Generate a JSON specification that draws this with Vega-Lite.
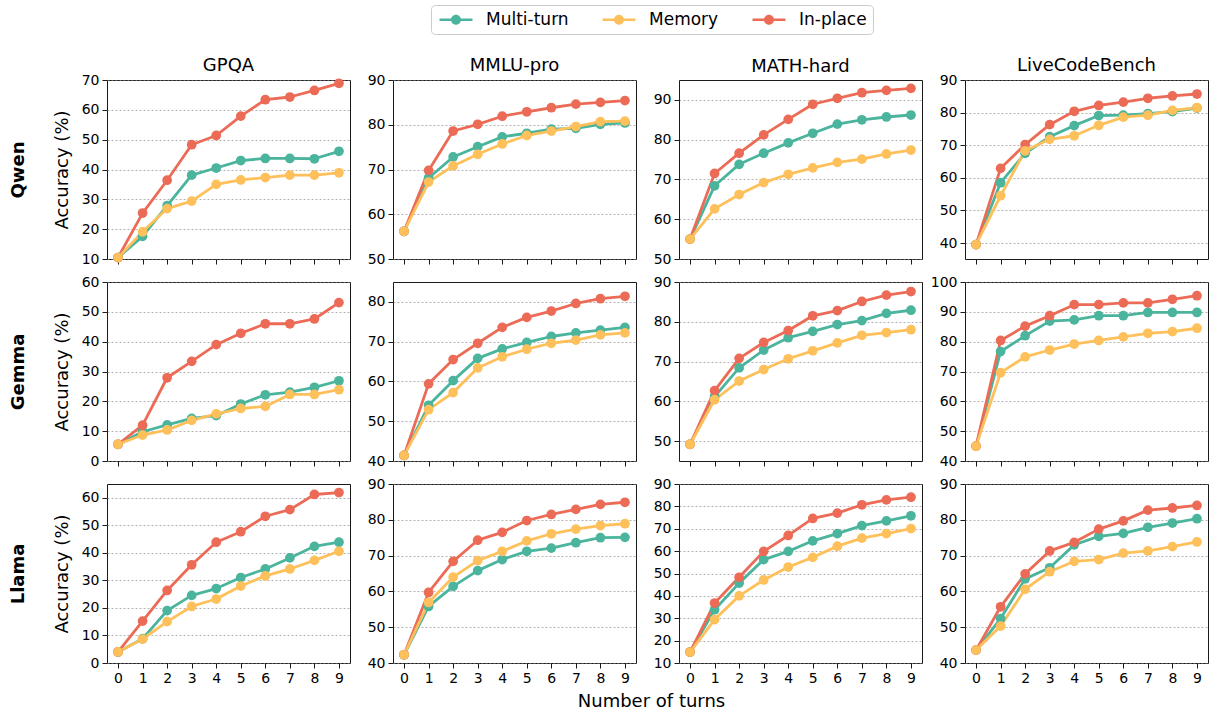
{
"$schema":"https://vega.github.io/schema/vega-lite/v6.json",
"background":"white",
"padding":{"left":8,"top":4,"right":2,"bottom":0},
"datasets":{"d":[
{"m":"Qwen","b":"GPQA","s":"Multi-turn","t":0,"v":10.5},{"m":"Qwen","b":"GPQA","s":"Multi-turn","t":1,"v":17.6},{"m":"Qwen","b":"GPQA","s":"Multi-turn","t":2,"v":27.9},{"m":"Qwen","b":"GPQA","s":"Multi-turn","t":3,"v":38.1},{"m":"Qwen","b":"GPQA","s":"Multi-turn","t":4,"v":40.5},{"m":"Qwen","b":"GPQA","s":"Multi-turn","t":5,"v":43.0},{"m":"Qwen","b":"GPQA","s":"Multi-turn","t":6,"v":43.7},{"m":"Qwen","b":"GPQA","s":"Multi-turn","t":7,"v":43.7},{"m":"Qwen","b":"GPQA","s":"Multi-turn","t":8,"v":43.6},{"m":"Qwen","b":"GPQA","s":"Multi-turn","t":9,"v":46.1},
{"m":"Qwen","b":"GPQA","s":"In-place","t":0,"v":10.5},{"m":"Qwen","b":"GPQA","s":"In-place","t":1,"v":25.4},{"m":"Qwen","b":"GPQA","s":"In-place","t":2,"v":36.4},{"m":"Qwen","b":"GPQA","s":"In-place","t":3,"v":48.3},{"m":"Qwen","b":"GPQA","s":"In-place","t":4,"v":51.4},{"m":"Qwen","b":"GPQA","s":"In-place","t":5,"v":57.9},{"m":"Qwen","b":"GPQA","s":"In-place","t":6,"v":63.4},{"m":"Qwen","b":"GPQA","s":"In-place","t":7,"v":64.3},{"m":"Qwen","b":"GPQA","s":"In-place","t":8,"v":66.5},{"m":"Qwen","b":"GPQA","s":"In-place","t":9,"v":68.9},
{"m":"Qwen","b":"GPQA","s":"Memory","t":0,"v":10.5},{"m":"Qwen","b":"GPQA","s":"Memory","t":1,"v":19.1},{"m":"Qwen","b":"GPQA","s":"Memory","t":2,"v":26.9},{"m":"Qwen","b":"GPQA","s":"Memory","t":3,"v":29.4},{"m":"Qwen","b":"GPQA","s":"Memory","t":4,"v":35.0},{"m":"Qwen","b":"GPQA","s":"Memory","t":5,"v":36.5},{"m":"Qwen","b":"GPQA","s":"Memory","t":6,"v":37.3},{"m":"Qwen","b":"GPQA","s":"Memory","t":7,"v":38.1},{"m":"Qwen","b":"GPQA","s":"Memory","t":8,"v":38.1},{"m":"Qwen","b":"GPQA","s":"Memory","t":9,"v":38.9},
{"m":"Qwen","b":"MMLU-pro","s":"Multi-turn","t":0,"v":56.2},{"m":"Qwen","b":"MMLU-pro","s":"Multi-turn","t":1,"v":68.1},{"m":"Qwen","b":"MMLU-pro","s":"Multi-turn","t":2,"v":72.8},{"m":"Qwen","b":"MMLU-pro","s":"Multi-turn","t":3,"v":75.1},{"m":"Qwen","b":"MMLU-pro","s":"Multi-turn","t":4,"v":77.3},{"m":"Qwen","b":"MMLU-pro","s":"Multi-turn","t":5,"v":78.1},{"m":"Qwen","b":"MMLU-pro","s":"Multi-turn","t":6,"v":79.0},{"m":"Qwen","b":"MMLU-pro","s":"Multi-turn","t":7,"v":79.2},{"m":"Qwen","b":"MMLU-pro","s":"Multi-turn","t":8,"v":80.1},{"m":"Qwen","b":"MMLU-pro","s":"Multi-turn","t":9,"v":80.4},
{"m":"Qwen","b":"MMLU-pro","s":"In-place","t":0,"v":56.2},{"m":"Qwen","b":"MMLU-pro","s":"In-place","t":1,"v":69.8},{"m":"Qwen","b":"MMLU-pro","s":"In-place","t":2,"v":78.6},{"m":"Qwen","b":"MMLU-pro","s":"In-place","t":3,"v":80.1},{"m":"Qwen","b":"MMLU-pro","s":"In-place","t":4,"v":81.9},{"m":"Qwen","b":"MMLU-pro","s":"In-place","t":5,"v":82.9},{"m":"Qwen","b":"MMLU-pro","s":"In-place","t":6,"v":83.8},{"m":"Qwen","b":"MMLU-pro","s":"In-place","t":7,"v":84.6},{"m":"Qwen","b":"MMLU-pro","s":"In-place","t":8,"v":85.0},{"m":"Qwen","b":"MMLU-pro","s":"In-place","t":9,"v":85.4},
{"m":"Qwen","b":"MMLU-pro","s":"Memory","t":0,"v":56.2},{"m":"Qwen","b":"MMLU-pro","s":"Memory","t":1,"v":67.2},{"m":"Qwen","b":"MMLU-pro","s":"Memory","t":2,"v":70.8},{"m":"Qwen","b":"MMLU-pro","s":"Memory","t":3,"v":73.4},{"m":"Qwen","b":"MMLU-pro","s":"Memory","t":4,"v":75.7},{"m":"Qwen","b":"MMLU-pro","s":"Memory","t":5,"v":77.6},{"m":"Qwen","b":"MMLU-pro","s":"Memory","t":6,"v":78.6},{"m":"Qwen","b":"MMLU-pro","s":"Memory","t":7,"v":79.6},{"m":"Qwen","b":"MMLU-pro","s":"Memory","t":8,"v":80.7},{"m":"Qwen","b":"MMLU-pro","s":"Memory","t":9,"v":80.8},
{"m":"Qwen","b":"MATH-hard","s":"Multi-turn","t":0,"v":55.0},{"m":"Qwen","b":"MATH-hard","s":"Multi-turn","t":1,"v":68.4},{"m":"Qwen","b":"MATH-hard","s":"Multi-turn","t":2,"v":73.8},{"m":"Qwen","b":"MATH-hard","s":"Multi-turn","t":3,"v":76.6},{"m":"Qwen","b":"MATH-hard","s":"Multi-turn","t":4,"v":79.2},{"m":"Qwen","b":"MATH-hard","s":"Multi-turn","t":5,"v":81.6},{"m":"Qwen","b":"MATH-hard","s":"Multi-turn","t":6,"v":83.9},{"m":"Qwen","b":"MATH-hard","s":"Multi-turn","t":7,"v":85.0},{"m":"Qwen","b":"MATH-hard","s":"Multi-turn","t":8,"v":85.7},{"m":"Qwen","b":"MATH-hard","s":"Multi-turn","t":9,"v":86.2},
{"m":"Qwen","b":"MATH-hard","s":"In-place","t":0,"v":55.0},{"m":"Qwen","b":"MATH-hard","s":"In-place","t":1,"v":71.5},{"m":"Qwen","b":"MATH-hard","s":"In-place","t":2,"v":76.6},{"m":"Qwen","b":"MATH-hard","s":"In-place","t":3,"v":81.2},{"m":"Qwen","b":"MATH-hard","s":"In-place","t":4,"v":85.1},{"m":"Qwen","b":"MATH-hard","s":"In-place","t":5,"v":88.9},{"m":"Qwen","b":"MATH-hard","s":"In-place","t":6,"v":90.4},{"m":"Qwen","b":"MATH-hard","s":"In-place","t":7,"v":91.8},{"m":"Qwen","b":"MATH-hard","s":"In-place","t":8,"v":92.4},{"m":"Qwen","b":"MATH-hard","s":"In-place","t":9,"v":92.9},
{"m":"Qwen","b":"MATH-hard","s":"Memory","t":0,"v":55.0},{"m":"Qwen","b":"MATH-hard","s":"Memory","t":1,"v":62.6},{"m":"Qwen","b":"MATH-hard","s":"Memory","t":2,"v":66.2},{"m":"Qwen","b":"MATH-hard","s":"Memory","t":3,"v":69.2},{"m":"Qwen","b":"MATH-hard","s":"Memory","t":4,"v":71.3},{"m":"Qwen","b":"MATH-hard","s":"Memory","t":5,"v":72.9},{"m":"Qwen","b":"MATH-hard","s":"Memory","t":6,"v":74.3},{"m":"Qwen","b":"MATH-hard","s":"Memory","t":7,"v":75.1},{"m":"Qwen","b":"MATH-hard","s":"Memory","t":8,"v":76.4},{"m":"Qwen","b":"MATH-hard","s":"Memory","t":9,"v":77.4},
{"m":"Qwen","b":"LiveCodeBench","s":"Multi-turn","t":0,"v":39.5},{"m":"Qwen","b":"LiveCodeBench","s":"Multi-turn","t":1,"v":58.5},{"m":"Qwen","b":"LiveCodeBench","s":"Multi-turn","t":2,"v":67.5},{"m":"Qwen","b":"LiveCodeBench","s":"Multi-turn","t":3,"v":72.6},{"m":"Qwen","b":"LiveCodeBench","s":"Multi-turn","t":4,"v":76.0},{"m":"Qwen","b":"LiveCodeBench","s":"Multi-turn","t":5,"v":79.1},{"m":"Qwen","b":"LiveCodeBench","s":"Multi-turn","t":6,"v":79.2},{"m":"Qwen","b":"LiveCodeBench","s":"Multi-turn","t":7,"v":79.7},{"m":"Qwen","b":"LiveCodeBench","s":"Multi-turn","t":8,"v":80.3},{"m":"Qwen","b":"LiveCodeBench","s":"Multi-turn","t":9,"v":81.4},
{"m":"Qwen","b":"LiveCodeBench","s":"In-place","t":0,"v":39.5},{"m":"Qwen","b":"LiveCodeBench","s":"In-place","t":1,"v":62.9},{"m":"Qwen","b":"LiveCodeBench","s":"In-place","t":2,"v":70.2},{"m":"Qwen","b":"LiveCodeBench","s":"In-place","t":3,"v":76.3},{"m":"Qwen","b":"LiveCodeBench","s":"In-place","t":4,"v":80.4},{"m":"Qwen","b":"LiveCodeBench","s":"In-place","t":5,"v":82.2},{"m":"Qwen","b":"LiveCodeBench","s":"In-place","t":6,"v":83.2},{"m":"Qwen","b":"LiveCodeBench","s":"In-place","t":7,"v":84.4},{"m":"Qwen","b":"LiveCodeBench","s":"In-place","t":8,"v":85.1},{"m":"Qwen","b":"LiveCodeBench","s":"In-place","t":9,"v":85.7},
{"m":"Qwen","b":"LiveCodeBench","s":"Memory","t":0,"v":39.5},{"m":"Qwen","b":"LiveCodeBench","s":"Memory","t":1,"v":54.5},{"m":"Qwen","b":"LiveCodeBench","s":"Memory","t":2,"v":68.3},{"m":"Qwen","b":"LiveCodeBench","s":"Memory","t":3,"v":71.8},{"m":"Qwen","b":"LiveCodeBench","s":"Memory","t":4,"v":72.9},{"m":"Qwen","b":"LiveCodeBench","s":"Memory","t":5,"v":76.1},{"m":"Qwen","b":"LiveCodeBench","s":"Memory","t":6,"v":78.6},{"m":"Qwen","b":"LiveCodeBench","s":"Memory","t":7,"v":79.2},{"m":"Qwen","b":"LiveCodeBench","s":"Memory","t":8,"v":80.7},{"m":"Qwen","b":"LiveCodeBench","s":"Memory","t":9,"v":81.5},
{"m":"Gemma","b":"GPQA","s":"Multi-turn","t":0,"v":5.6},{"m":"Gemma","b":"GPQA","s":"Multi-turn","t":1,"v":9.8},{"m":"Gemma","b":"GPQA","s":"Multi-turn","t":2,"v":12.1},{"m":"Gemma","b":"GPQA","s":"Multi-turn","t":3,"v":14.3},{"m":"Gemma","b":"GPQA","s":"Multi-turn","t":4,"v":15.2},{"m":"Gemma","b":"GPQA","s":"Multi-turn","t":5,"v":19.1},{"m":"Gemma","b":"GPQA","s":"Multi-turn","t":6,"v":22.2},{"m":"Gemma","b":"GPQA","s":"Multi-turn","t":7,"v":23.1},{"m":"Gemma","b":"GPQA","s":"Multi-turn","t":8,"v":24.7},{"m":"Gemma","b":"GPQA","s":"Multi-turn","t":9,"v":26.9},
{"m":"Gemma","b":"GPQA","s":"In-place","t":0,"v":5.6},{"m":"Gemma","b":"GPQA","s":"In-place","t":1,"v":12.0},{"m":"Gemma","b":"GPQA","s":"In-place","t":2,"v":27.9},{"m":"Gemma","b":"GPQA","s":"In-place","t":3,"v":33.4},{"m":"Gemma","b":"GPQA","s":"In-place","t":4,"v":39.0},{"m":"Gemma","b":"GPQA","s":"In-place","t":5,"v":42.8},{"m":"Gemma","b":"GPQA","s":"In-place","t":6,"v":46.0},{"m":"Gemma","b":"GPQA","s":"In-place","t":7,"v":46.0},{"m":"Gemma","b":"GPQA","s":"In-place","t":8,"v":47.6},{"m":"Gemma","b":"GPQA","s":"In-place","t":9,"v":53.1},
{"m":"Gemma","b":"GPQA","s":"Memory","t":0,"v":5.6},{"m":"Gemma","b":"GPQA","s":"Memory","t":1,"v":8.7},{"m":"Gemma","b":"GPQA","s":"Memory","t":2,"v":10.4},{"m":"Gemma","b":"GPQA","s":"Memory","t":3,"v":13.6},{"m":"Gemma","b":"GPQA","s":"Memory","t":4,"v":15.8},{"m":"Gemma","b":"GPQA","s":"Memory","t":5,"v":17.6},{"m":"Gemma","b":"GPQA","s":"Memory","t":6,"v":18.3},{"m":"Gemma","b":"GPQA","s":"Memory","t":7,"v":22.3},{"m":"Gemma","b":"GPQA","s":"Memory","t":8,"v":22.3},{"m":"Gemma","b":"GPQA","s":"Memory","t":9,"v":23.9},
{"m":"Gemma","b":"MMLU-pro","s":"Multi-turn","t":0,"v":41.4},{"m":"Gemma","b":"MMLU-pro","s":"Multi-turn","t":1,"v":54.0},{"m":"Gemma","b":"MMLU-pro","s":"Multi-turn","t":2,"v":60.2},{"m":"Gemma","b":"MMLU-pro","s":"Multi-turn","t":3,"v":65.8},{"m":"Gemma","b":"MMLU-pro","s":"Multi-turn","t":4,"v":68.2},{"m":"Gemma","b":"MMLU-pro","s":"Multi-turn","t":5,"v":69.8},{"m":"Gemma","b":"MMLU-pro","s":"Multi-turn","t":6,"v":71.3},{"m":"Gemma","b":"MMLU-pro","s":"Multi-turn","t":7,"v":72.2},{"m":"Gemma","b":"MMLU-pro","s":"Multi-turn","t":8,"v":72.9},{"m":"Gemma","b":"MMLU-pro","s":"Multi-turn","t":9,"v":73.6},
{"m":"Gemma","b":"MMLU-pro","s":"In-place","t":0,"v":41.4},{"m":"Gemma","b":"MMLU-pro","s":"In-place","t":1,"v":59.4},{"m":"Gemma","b":"MMLU-pro","s":"In-place","t":2,"v":65.5},{"m":"Gemma","b":"MMLU-pro","s":"In-place","t":3,"v":69.6},{"m":"Gemma","b":"MMLU-pro","s":"In-place","t":4,"v":73.6},{"m":"Gemma","b":"MMLU-pro","s":"In-place","t":5,"v":76.1},{"m":"Gemma","b":"MMLU-pro","s":"In-place","t":6,"v":77.7},{"m":"Gemma","b":"MMLU-pro","s":"In-place","t":7,"v":79.6},{"m":"Gemma","b":"MMLU-pro","s":"In-place","t":8,"v":80.8},{"m":"Gemma","b":"MMLU-pro","s":"In-place","t":9,"v":81.4},
{"m":"Gemma","b":"MMLU-pro","s":"Memory","t":0,"v":41.4},{"m":"Gemma","b":"MMLU-pro","s":"Memory","t":1,"v":52.9},{"m":"Gemma","b":"MMLU-pro","s":"Memory","t":2,"v":57.2},{"m":"Gemma","b":"MMLU-pro","s":"Memory","t":3,"v":63.4},{"m":"Gemma","b":"MMLU-pro","s":"Memory","t":4,"v":66.2},{"m":"Gemma","b":"MMLU-pro","s":"Memory","t":5,"v":68.1},{"m":"Gemma","b":"MMLU-pro","s":"Memory","t":6,"v":69.6},{"m":"Gemma","b":"MMLU-pro","s":"Memory","t":7,"v":70.4},{"m":"Gemma","b":"MMLU-pro","s":"Memory","t":8,"v":71.7},{"m":"Gemma","b":"MMLU-pro","s":"Memory","t":9,"v":72.2},
{"m":"Gemma","b":"MATH-hard","s":"Multi-turn","t":0,"v":49.2},{"m":"Gemma","b":"MATH-hard","s":"Multi-turn","t":1,"v":61.2},{"m":"Gemma","b":"MATH-hard","s":"Multi-turn","t":2,"v":68.4},{"m":"Gemma","b":"MATH-hard","s":"Multi-turn","t":3,"v":72.9},{"m":"Gemma","b":"MATH-hard","s":"Multi-turn","t":4,"v":76.0},{"m":"Gemma","b":"MATH-hard","s":"Multi-turn","t":5,"v":77.6},{"m":"Gemma","b":"MATH-hard","s":"Multi-turn","t":6,"v":79.3},{"m":"Gemma","b":"MATH-hard","s":"Multi-turn","t":7,"v":80.3},{"m":"Gemma","b":"MATH-hard","s":"Multi-turn","t":8,"v":82.1},{"m":"Gemma","b":"MATH-hard","s":"Multi-turn","t":9,"v":82.9},
{"m":"Gemma","b":"MATH-hard","s":"In-place","t":0,"v":49.2},{"m":"Gemma","b":"MATH-hard","s":"In-place","t":1,"v":62.7},{"m":"Gemma","b":"MATH-hard","s":"In-place","t":2,"v":70.8},{"m":"Gemma","b":"MATH-hard","s":"In-place","t":3,"v":74.8},{"m":"Gemma","b":"MATH-hard","s":"In-place","t":4,"v":77.8},{"m":"Gemma","b":"MATH-hard","s":"In-place","t":5,"v":81.5},{"m":"Gemma","b":"MATH-hard","s":"In-place","t":6,"v":82.8},{"m":"Gemma","b":"MATH-hard","s":"In-place","t":7,"v":85.1},{"m":"Gemma","b":"MATH-hard","s":"In-place","t":8,"v":86.7},{"m":"Gemma","b":"MATH-hard","s":"In-place","t":9,"v":87.6},
{"m":"Gemma","b":"MATH-hard","s":"Memory","t":0,"v":49.2},{"m":"Gemma","b":"MATH-hard","s":"Memory","t":1,"v":60.4},{"m":"Gemma","b":"MATH-hard","s":"Memory","t":2,"v":65.1},{"m":"Gemma","b":"MATH-hard","s":"Memory","t":3,"v":68.0},{"m":"Gemma","b":"MATH-hard","s":"Memory","t":4,"v":70.7},{"m":"Gemma","b":"MATH-hard","s":"Memory","t":5,"v":72.7},{"m":"Gemma","b":"MATH-hard","s":"Memory","t":6,"v":74.7},{"m":"Gemma","b":"MATH-hard","s":"Memory","t":7,"v":76.6},{"m":"Gemma","b":"MATH-hard","s":"Memory","t":8,"v":77.3},{"m":"Gemma","b":"MATH-hard","s":"Memory","t":9,"v":78.0},
{"m":"Gemma","b":"LiveCodeBench","s":"Multi-turn","t":0,"v":45.0},{"m":"Gemma","b":"LiveCodeBench","s":"Multi-turn","t":1,"v":76.7},{"m":"Gemma","b":"LiveCodeBench","s":"Multi-turn","t":2,"v":82.0},{"m":"Gemma","b":"LiveCodeBench","s":"Multi-turn","t":3,"v":86.9},{"m":"Gemma","b":"LiveCodeBench","s":"Multi-turn","t":4,"v":87.3},{"m":"Gemma","b":"LiveCodeBench","s":"Multi-turn","t":5,"v":88.7},{"m":"Gemma","b":"LiveCodeBench","s":"Multi-turn","t":6,"v":88.7},{"m":"Gemma","b":"LiveCodeBench","s":"Multi-turn","t":7,"v":89.8},{"m":"Gemma","b":"LiveCodeBench","s":"Multi-turn","t":8,"v":89.8},{"m":"Gemma","b":"LiveCodeBench","s":"Multi-turn","t":9,"v":89.8},
{"m":"Gemma","b":"LiveCodeBench","s":"In-place","t":0,"v":45.0},{"m":"Gemma","b":"LiveCodeBench","s":"In-place","t":1,"v":80.4},{"m":"Gemma","b":"LiveCodeBench","s":"In-place","t":2,"v":85.2},{"m":"Gemma","b":"LiveCodeBench","s":"In-place","t":3,"v":88.7},{"m":"Gemma","b":"LiveCodeBench","s":"In-place","t":4,"v":92.4},{"m":"Gemma","b":"LiveCodeBench","s":"In-place","t":5,"v":92.4},{"m":"Gemma","b":"LiveCodeBench","s":"In-place","t":6,"v":93.0},{"m":"Gemma","b":"LiveCodeBench","s":"In-place","t":7,"v":93.0},{"m":"Gemma","b":"LiveCodeBench","s":"In-place","t":8,"v":94.2},{"m":"Gemma","b":"LiveCodeBench","s":"In-place","t":9,"v":95.4},
{"m":"Gemma","b":"LiveCodeBench","s":"Memory","t":0,"v":45.0},{"m":"Gemma","b":"LiveCodeBench","s":"Memory","t":1,"v":69.6},{"m":"Gemma","b":"LiveCodeBench","s":"Memory","t":2,"v":74.9},{"m":"Gemma","b":"LiveCodeBench","s":"Memory","t":3,"v":77.2},{"m":"Gemma","b":"LiveCodeBench","s":"Memory","t":4,"v":79.2},{"m":"Gemma","b":"LiveCodeBench","s":"Memory","t":5,"v":80.4},{"m":"Gemma","b":"LiveCodeBench","s":"Memory","t":6,"v":81.6},{"m":"Gemma","b":"LiveCodeBench","s":"Memory","t":7,"v":82.8},{"m":"Gemma","b":"LiveCodeBench","s":"Memory","t":8,"v":83.4},{"m":"Gemma","b":"LiveCodeBench","s":"Memory","t":9,"v":84.5},
{"m":"Llama","b":"GPQA","s":"Multi-turn","t":0,"v":4.0},{"m":"Llama","b":"GPQA","s":"Multi-turn","t":1,"v":8.8},{"m":"Llama","b":"GPQA","s":"Multi-turn","t":2,"v":19.0},{"m":"Llama","b":"GPQA","s":"Multi-turn","t":3,"v":24.5},{"m":"Llama","b":"GPQA","s":"Multi-turn","t":4,"v":27.0},{"m":"Llama","b":"GPQA","s":"Multi-turn","t":5,"v":31.0},{"m":"Llama","b":"GPQA","s":"Multi-turn","t":6,"v":34.1},{"m":"Llama","b":"GPQA","s":"Multi-turn","t":7,"v":38.1},{"m":"Llama","b":"GPQA","s":"Multi-turn","t":8,"v":42.3},{"m":"Llama","b":"GPQA","s":"Multi-turn","t":9,"v":43.8},
{"m":"Llama","b":"GPQA","s":"In-place","t":0,"v":4.0},{"m":"Llama","b":"GPQA","s":"In-place","t":1,"v":15.2},{"m":"Llama","b":"GPQA","s":"In-place","t":2,"v":26.3},{"m":"Llama","b":"GPQA","s":"In-place","t":3,"v":35.6},{"m":"Llama","b":"GPQA","s":"In-place","t":4,"v":43.8},{"m":"Llama","b":"GPQA","s":"In-place","t":5,"v":47.6},{"m":"Llama","b":"GPQA","s":"In-place","t":6,"v":53.2},{"m":"Llama","b":"GPQA","s":"In-place","t":7,"v":55.6},{"m":"Llama","b":"GPQA","s":"In-place","t":8,"v":61.1},{"m":"Llama","b":"GPQA","s":"In-place","t":9,"v":61.8},
{"m":"Llama","b":"GPQA","s":"Memory","t":0,"v":4.0},{"m":"Llama","b":"GPQA","s":"Memory","t":1,"v":8.7},{"m":"Llama","b":"GPQA","s":"Memory","t":2,"v":15.0},{"m":"Llama","b":"GPQA","s":"Memory","t":3,"v":20.5},{"m":"Llama","b":"GPQA","s":"Memory","t":4,"v":23.2},{"m":"Llama","b":"GPQA","s":"Memory","t":5,"v":27.9},{"m":"Llama","b":"GPQA","s":"Memory","t":6,"v":31.6},{"m":"Llama","b":"GPQA","s":"Memory","t":7,"v":34.1},{"m":"Llama","b":"GPQA","s":"Memory","t":8,"v":37.2},{"m":"Llama","b":"GPQA","s":"Memory","t":9,"v":40.5},
{"m":"Llama","b":"MMLU-pro","s":"Multi-turn","t":0,"v":42.3},{"m":"Llama","b":"MMLU-pro","s":"Multi-turn","t":1,"v":55.8},{"m":"Llama","b":"MMLU-pro","s":"Multi-turn","t":2,"v":61.4},{"m":"Llama","b":"MMLU-pro","s":"Multi-turn","t":3,"v":65.8},{"m":"Llama","b":"MMLU-pro","s":"Multi-turn","t":4,"v":68.9},{"m":"Llama","b":"MMLU-pro","s":"Multi-turn","t":5,"v":71.2},{"m":"Llama","b":"MMLU-pro","s":"Multi-turn","t":6,"v":72.1},{"m":"Llama","b":"MMLU-pro","s":"Multi-turn","t":7,"v":73.6},{"m":"Llama","b":"MMLU-pro","s":"Multi-turn","t":8,"v":75.0},{"m":"Llama","b":"MMLU-pro","s":"Multi-turn","t":9,"v":75.1},
{"m":"Llama","b":"MMLU-pro","s":"In-place","t":0,"v":42.3},{"m":"Llama","b":"MMLU-pro","s":"In-place","t":1,"v":59.7},{"m":"Llama","b":"MMLU-pro","s":"In-place","t":2,"v":68.4},{"m":"Llama","b":"MMLU-pro","s":"In-place","t":3,"v":74.3},{"m":"Llama","b":"MMLU-pro","s":"In-place","t":4,"v":76.5},{"m":"Llama","b":"MMLU-pro","s":"In-place","t":5,"v":79.8},{"m":"Llama","b":"MMLU-pro","s":"In-place","t":6,"v":81.5},{"m":"Llama","b":"MMLU-pro","s":"In-place","t":7,"v":82.9},{"m":"Llama","b":"MMLU-pro","s":"In-place","t":8,"v":84.3},{"m":"Llama","b":"MMLU-pro","s":"In-place","t":9,"v":84.9},
{"m":"Llama","b":"MMLU-pro","s":"Memory","t":0,"v":42.3},{"m":"Llama","b":"MMLU-pro","s":"Memory","t":1,"v":56.9},{"m":"Llama","b":"MMLU-pro","s":"Memory","t":2,"v":64.0},{"m":"Llama","b":"MMLU-pro","s":"Memory","t":3,"v":68.6},{"m":"Llama","b":"MMLU-pro","s":"Memory","t":4,"v":71.2},{"m":"Llama","b":"MMLU-pro","s":"Memory","t":5,"v":74.1},{"m":"Llama","b":"MMLU-pro","s":"Memory","t":6,"v":76.1},{"m":"Llama","b":"MMLU-pro","s":"Memory","t":7,"v":77.4},{"m":"Llama","b":"MMLU-pro","s":"Memory","t":8,"v":78.4},{"m":"Llama","b":"MMLU-pro","s":"Memory","t":9,"v":78.9},
{"m":"Llama","b":"MATH-hard","s":"Multi-turn","t":0,"v":14.9},{"m":"Llama","b":"MATH-hard","s":"Multi-turn","t":1,"v":33.8},{"m":"Llama","b":"MATH-hard","s":"Multi-turn","t":2,"v":45.7},{"m":"Llama","b":"MATH-hard","s":"Multi-turn","t":3,"v":56.2},{"m":"Llama","b":"MATH-hard","s":"Multi-turn","t":4,"v":59.9},{"m":"Llama","b":"MATH-hard","s":"Multi-turn","t":5,"v":64.6},{"m":"Llama","b":"MATH-hard","s":"Multi-turn","t":6,"v":67.8},{"m":"Llama","b":"MATH-hard","s":"Multi-turn","t":7,"v":71.4},{"m":"Llama","b":"MATH-hard","s":"Multi-turn","t":8,"v":73.5},{"m":"Llama","b":"MATH-hard","s":"Multi-turn","t":9,"v":75.8},
{"m":"Llama","b":"MATH-hard","s":"In-place","t":0,"v":14.9},{"m":"Llama","b":"MATH-hard","s":"In-place","t":1,"v":36.8},{"m":"Llama","b":"MATH-hard","s":"In-place","t":2,"v":48.3},{"m":"Llama","b":"MATH-hard","s":"In-place","t":3,"v":59.9},{"m":"Llama","b":"MATH-hard","s":"In-place","t":4,"v":67.0},{"m":"Llama","b":"MATH-hard","s":"In-place","t":5,"v":74.6},{"m":"Llama","b":"MATH-hard","s":"In-place","t":6,"v":77.0},{"m":"Llama","b":"MATH-hard","s":"In-place","t":7,"v":80.7},{"m":"Llama","b":"MATH-hard","s":"In-place","t":8,"v":82.9},{"m":"Llama","b":"MATH-hard","s":"In-place","t":9,"v":84.1},
{"m":"Llama","b":"MATH-hard","s":"Memory","t":0,"v":14.9},{"m":"Llama","b":"MATH-hard","s":"Memory","t":1,"v":29.4},{"m":"Llama","b":"MATH-hard","s":"Memory","t":2,"v":40.0},{"m":"Llama","b":"MATH-hard","s":"Memory","t":3,"v":47.1},{"m":"Llama","b":"MATH-hard","s":"Memory","t":4,"v":52.9},{"m":"Llama","b":"MATH-hard","s":"Memory","t":5,"v":57.2},{"m":"Llama","b":"MATH-hard","s":"Memory","t":6,"v":62.2},{"m":"Llama","b":"MATH-hard","s":"Memory","t":7,"v":65.8},{"m":"Llama","b":"MATH-hard","s":"Memory","t":8,"v":67.8},{"m":"Llama","b":"MATH-hard","s":"Memory","t":9,"v":70.1},
{"m":"Llama","b":"LiveCodeBench","s":"Multi-turn","t":0,"v":43.6},{"m":"Llama","b":"LiveCodeBench","s":"Multi-turn","t":1,"v":52.4},{"m":"Llama","b":"LiveCodeBench","s":"Multi-turn","t":2,"v":63.5},{"m":"Llama","b":"LiveCodeBench","s":"Multi-turn","t":3,"v":66.6},{"m":"Llama","b":"LiveCodeBench","s":"Multi-turn","t":4,"v":73.0},{"m":"Llama","b":"LiveCodeBench","s":"Multi-turn","t":5,"v":75.4},{"m":"Llama","b":"LiveCodeBench","s":"Multi-turn","t":6,"v":76.2},{"m":"Llama","b":"LiveCodeBench","s":"Multi-turn","t":7,"v":77.9},{"m":"Llama","b":"LiveCodeBench","s":"Multi-turn","t":8,"v":79.1},{"m":"Llama","b":"LiveCodeBench","s":"Multi-turn","t":9,"v":80.3},
{"m":"Llama","b":"LiveCodeBench","s":"In-place","t":0,"v":43.6},{"m":"Llama","b":"LiveCodeBench","s":"In-place","t":1,"v":55.7},{"m":"Llama","b":"LiveCodeBench","s":"In-place","t":2,"v":64.9},{"m":"Llama","b":"LiveCodeBench","s":"In-place","t":3,"v":71.3},{"m":"Llama","b":"LiveCodeBench","s":"In-place","t":4,"v":73.7},{"m":"Llama","b":"LiveCodeBench","s":"In-place","t":5,"v":77.4},{"m":"Llama","b":"LiveCodeBench","s":"In-place","t":6,"v":79.7},{"m":"Llama","b":"LiveCodeBench","s":"In-place","t":7,"v":82.7},{"m":"Llama","b":"LiveCodeBench","s":"In-place","t":8,"v":83.3},{"m":"Llama","b":"LiveCodeBench","s":"In-place","t":9,"v":84.0},
{"m":"Llama","b":"LiveCodeBench","s":"Memory","t":0,"v":43.6},{"m":"Llama","b":"LiveCodeBench","s":"Memory","t":1,"v":50.3},{"m":"Llama","b":"LiveCodeBench","s":"Memory","t":2,"v":60.6},{"m":"Llama","b":"LiveCodeBench","s":"Memory","t":3,"v":65.5},{"m":"Llama","b":"LiveCodeBench","s":"Memory","t":4,"v":68.4},{"m":"Llama","b":"LiveCodeBench","s":"Memory","t":5,"v":68.9},{"m":"Llama","b":"LiveCodeBench","s":"Memory","t":6,"v":70.7},{"m":"Llama","b":"LiveCodeBench","s":"Memory","t":7,"v":71.3},{"m":"Llama","b":"LiveCodeBench","s":"Memory","t":8,"v":72.5},{"m":"Llama","b":"LiveCodeBench","s":"Memory","t":9,"v":73.8}
]},
"data":{"name":"d"},
"columns":4,
"spacing":{"row":23,"column":43},
"bounds":"flush",
"title":{"text":"Number of turns","orient":"bottom","anchor":"middle","frame":"bounds","fontSize":18,"offset":7,"dx":43},
"concat":[
{"width":243,"height":179,"title":{"text":"GPQA","dy":7},"transform":[{"filter":"datum.m==='Qwen'&&datum.b==='GPQA'"}],
 "layer":[
  {"mark":{"type":"line","strokeWidth":2.8,"strokeJoin":"round","point":{"filled":true,"size":95,"opacity":1}},
   "encoding":{"x":{"field":"t","type":"quantitative","scale":{"domain":[-0.45,9.45],"nice":false,"zero":false},"axis":{"values":[0,1,2,3,4,5,6,7,8,9],"labels":false,"title":null}},
    "y":{"field":"v","type":"quantitative","scale":{"domain":[10,70],"nice":false,"zero":false},"axis":{"values":[10,20,30,40,50,60,70],"title":"Accuracy (%)","titlePadding":10}},
    "color":{"field":"s","type":"nominal","scale":{"domain":["Multi-turn","Memory","In-place"],"range":["#4bb49c","#fec05a","#ec6b56"]},"legend":{"title":null,"orient":"none","legendX":324,"legendY":-75,"direction":"horizontal","columns":3,"symbolType":"M-2.06,-0.16L2.06,-0.16L2.06,0.16L-2.06,0.16Z M-0.625,0A0.625,0.625 0 1,1 0.625,0A0.625,0.625 0 1,1 -0.625,0Z","symbolSize":256,"symbolStrokeWidth":0,"symbolOffset":10.5,"labelFontSize":17,"labelColor":"#000","labelOffset":21.5,"columnPadding":31,"padding":6,"strokeColor":"#cccccc","fillColor":"#ffffff","cornerRadius":4,"encode":{"symbols":{"update":{"fill":{"scale":"color","field":"value"},"stroke":{"value":"transparent"},"opacity":{"value":1}}}}}}}},
  {"mark":{"type":"point","opacity":0},"encoding":{"y":{"field":"v","type":"quantitative","scale":{"domain":[10,70],"nice":false,"zero":false},"axis":{"orient":"left","title":"Qwen","titleFontWeight":"bold","titlePadding":80,"labels":false,"ticks":false,"domain":false,"grid":false}}}}
 ],"resolve":{"scale":{"y":"independent"}}},
{"width":243,"height":179,"title":{"text":"MMLU-pro","dy":7},"transform":[{"filter":"datum.m==='Qwen'&&datum.b==='MMLU-pro'"}],
 "mark":{"type":"line","strokeWidth":2.8,"strokeJoin":"round","point":{"filled":true,"size":95,"opacity":1}},
 "encoding":{"x":{"field":"t","type":"quantitative","scale":{"domain":[-0.45,9.45],"nice":false,"zero":false},"axis":{"values":[0,1,2,3,4,5,6,7,8,9],"labels":false,"title":null}},
  "y":{"field":"v","type":"quantitative","scale":{"domain":[50,90],"nice":false,"zero":false},"axis":{"values":[50,60,70,80,90],"title":null}},
  "color":{"field":"s","type":"nominal","scale":{"domain":["Multi-turn","Memory","In-place"],"range":["#4bb49c","#fec05a","#ec6b56"]},"legend":{"title":null,"orient":"none","legendX":324,"legendY":-75,"direction":"horizontal","columns":3,"symbolType":"M-2.06,-0.16L2.06,-0.16L2.06,0.16L-2.06,0.16Z M-0.625,0A0.625,0.625 0 1,1 0.625,0A0.625,0.625 0 1,1 -0.625,0Z","symbolSize":256,"symbolStrokeWidth":0,"symbolOffset":10.5,"labelFontSize":17,"labelColor":"#000","labelOffset":21.5,"columnPadding":31,"padding":6,"strokeColor":"#cccccc","fillColor":"#ffffff","cornerRadius":4,"encode":{"symbols":{"update":{"fill":{"scale":"color","field":"value"},"stroke":{"value":"transparent"},"opacity":{"value":1}}}}}}}},
{"width":243,"height":179,"title":{"text":"MATH-hard","dy":1},"transform":[{"filter":"datum.m==='Qwen'&&datum.b==='MATH-hard'"}],
 "mark":{"type":"line","strokeWidth":2.8,"strokeJoin":"round","point":{"filled":true,"size":95,"opacity":1}},
 "encoding":{"x":{"field":"t","type":"quantitative","scale":{"domain":[-0.45,9.45],"nice":false,"zero":false},"axis":{"values":[0,1,2,3,4,5,6,7,8,9],"labels":false,"title":null}},
  "y":{"field":"v","type":"quantitative","scale":{"domain":[50,95],"nice":false,"zero":false},"axis":{"values":[50,60,70,80,90],"title":null}},
  "color":{"field":"s","type":"nominal","scale":{"domain":["Multi-turn","Memory","In-place"],"range":["#4bb49c","#fec05a","#ec6b56"]},"legend":{"title":null,"orient":"none","legendX":324,"legendY":-75,"direction":"horizontal","columns":3,"symbolType":"M-2.06,-0.16L2.06,-0.16L2.06,0.16L-2.06,0.16Z M-0.625,0A0.625,0.625 0 1,1 0.625,0A0.625,0.625 0 1,1 -0.625,0Z","symbolSize":256,"symbolStrokeWidth":0,"symbolOffset":10.5,"labelFontSize":17,"labelColor":"#000","labelOffset":21.5,"columnPadding":31,"padding":6,"strokeColor":"#cccccc","fillColor":"#ffffff","cornerRadius":4,"encode":{"symbols":{"update":{"fill":{"scale":"color","field":"value"},"stroke":{"value":"transparent"},"opacity":{"value":1}}}}}}}},
{"width":243,"height":179,"title":{"text":"LiveCodeBench","dy":7},"transform":[{"filter":"datum.m==='Qwen'&&datum.b==='LiveCodeBench'"}],
 "mark":{"type":"line","strokeWidth":2.8,"strokeJoin":"round","point":{"filled":true,"size":95,"opacity":1}},
 "encoding":{"x":{"field":"t","type":"quantitative","scale":{"domain":[-0.45,9.45],"nice":false,"zero":false},"axis":{"values":[0,1,2,3,4,5,6,7,8,9],"labels":false,"title":null}},
  "y":{"field":"v","type":"quantitative","scale":{"domain":[35.1,90],"nice":false,"zero":false},"axis":{"values":[40,50,60,70,80,90],"title":null}},
  "color":{"field":"s","type":"nominal","scale":{"domain":["Multi-turn","Memory","In-place"],"range":["#4bb49c","#fec05a","#ec6b56"]},"legend":{"title":null,"orient":"none","legendX":324,"legendY":-75,"direction":"horizontal","columns":3,"symbolType":"M-2.06,-0.16L2.06,-0.16L2.06,0.16L-2.06,0.16Z M-0.625,0A0.625,0.625 0 1,1 0.625,0A0.625,0.625 0 1,1 -0.625,0Z","symbolSize":256,"symbolStrokeWidth":0,"symbolOffset":10.5,"labelFontSize":17,"labelColor":"#000","labelOffset":21.5,"columnPadding":31,"padding":6,"strokeColor":"#cccccc","fillColor":"#ffffff","cornerRadius":4,"encode":{"symbols":{"update":{"fill":{"scale":"color","field":"value"},"stroke":{"value":"transparent"},"opacity":{"value":1}}}}}}}},
{"width":243,"height":179,"transform":[{"filter":"datum.m==='Gemma'&&datum.b==='GPQA'"}],
 "layer":[
  {"mark":{"type":"line","strokeWidth":2.8,"strokeJoin":"round","point":{"filled":true,"size":95,"opacity":1}},
   "encoding":{"x":{"field":"t","type":"quantitative","scale":{"domain":[-0.45,9.45],"nice":false,"zero":false},"axis":{"values":[0,1,2,3,4,5,6,7,8,9],"labels":false,"title":null}},
    "y":{"field":"v","type":"quantitative","scale":{"domain":[0,60],"nice":false,"zero":false},"axis":{"values":[0,10,20,30,40,50,60],"title":"Accuracy (%)","titlePadding":10}},
    "color":{"field":"s","type":"nominal","scale":{"domain":["Multi-turn","Memory","In-place"],"range":["#4bb49c","#fec05a","#ec6b56"]},"legend":{"title":null,"orient":"none","legendX":324,"legendY":-75,"direction":"horizontal","columns":3,"symbolType":"M-2.06,-0.16L2.06,-0.16L2.06,0.16L-2.06,0.16Z M-0.625,0A0.625,0.625 0 1,1 0.625,0A0.625,0.625 0 1,1 -0.625,0Z","symbolSize":256,"symbolStrokeWidth":0,"symbolOffset":10.5,"labelFontSize":17,"labelColor":"#000","labelOffset":21.5,"columnPadding":31,"padding":6,"strokeColor":"#cccccc","fillColor":"#ffffff","cornerRadius":4,"encode":{"symbols":{"update":{"fill":{"scale":"color","field":"value"},"stroke":{"value":"transparent"},"opacity":{"value":1}}}}}}}},
  {"mark":{"type":"point","opacity":0},"encoding":{"y":{"field":"v","type":"quantitative","scale":{"domain":[0,60],"nice":false,"zero":false},"axis":{"orient":"left","title":"Gemma","titleFontWeight":"bold","titlePadding":80,"labels":false,"ticks":false,"domain":false,"grid":false}}}}
 ],"resolve":{"scale":{"y":"independent"}}},
{"width":243,"height":179,"transform":[{"filter":"datum.m==='Gemma'&&datum.b==='MMLU-pro'"}],
 "mark":{"type":"line","strokeWidth":2.8,"strokeJoin":"round","point":{"filled":true,"size":95,"opacity":1}},
 "encoding":{"x":{"field":"t","type":"quantitative","scale":{"domain":[-0.45,9.45],"nice":false,"zero":false},"axis":{"values":[0,1,2,3,4,5,6,7,8,9],"labels":false,"title":null}},
  "y":{"field":"v","type":"quantitative","scale":{"domain":[40,85],"nice":false,"zero":false},"axis":{"values":[40,50,60,70,80],"title":null}},
  "color":{"field":"s","type":"nominal","scale":{"domain":["Multi-turn","Memory","In-place"],"range":["#4bb49c","#fec05a","#ec6b56"]},"legend":{"title":null,"orient":"none","legendX":324,"legendY":-75,"direction":"horizontal","columns":3,"symbolType":"M-2.06,-0.16L2.06,-0.16L2.06,0.16L-2.06,0.16Z M-0.625,0A0.625,0.625 0 1,1 0.625,0A0.625,0.625 0 1,1 -0.625,0Z","symbolSize":256,"symbolStrokeWidth":0,"symbolOffset":10.5,"labelFontSize":17,"labelColor":"#000","labelOffset":21.5,"columnPadding":31,"padding":6,"strokeColor":"#cccccc","fillColor":"#ffffff","cornerRadius":4,"encode":{"symbols":{"update":{"fill":{"scale":"color","field":"value"},"stroke":{"value":"transparent"},"opacity":{"value":1}}}}}}}},
{"width":243,"height":179,"transform":[{"filter":"datum.m==='Gemma'&&datum.b==='MATH-hard'"}],
 "mark":{"type":"line","strokeWidth":2.8,"strokeJoin":"round","point":{"filled":true,"size":95,"opacity":1}},
 "encoding":{"x":{"field":"t","type":"quantitative","scale":{"domain":[-0.45,9.45],"nice":false,"zero":false},"axis":{"values":[0,1,2,3,4,5,6,7,8,9],"labels":false,"title":null}},
  "y":{"field":"v","type":"quantitative","scale":{"domain":[45,90],"nice":false,"zero":false},"axis":{"values":[50,60,70,80,90],"title":null}},
  "color":{"field":"s","type":"nominal","scale":{"domain":["Multi-turn","Memory","In-place"],"range":["#4bb49c","#fec05a","#ec6b56"]},"legend":{"title":null,"orient":"none","legendX":324,"legendY":-75,"direction":"horizontal","columns":3,"symbolType":"M-2.06,-0.16L2.06,-0.16L2.06,0.16L-2.06,0.16Z M-0.625,0A0.625,0.625 0 1,1 0.625,0A0.625,0.625 0 1,1 -0.625,0Z","symbolSize":256,"symbolStrokeWidth":0,"symbolOffset":10.5,"labelFontSize":17,"labelColor":"#000","labelOffset":21.5,"columnPadding":31,"padding":6,"strokeColor":"#cccccc","fillColor":"#ffffff","cornerRadius":4,"encode":{"symbols":{"update":{"fill":{"scale":"color","field":"value"},"stroke":{"value":"transparent"},"opacity":{"value":1}}}}}}}},
{"width":243,"height":179,"transform":[{"filter":"datum.m==='Gemma'&&datum.b==='LiveCodeBench'"}],
 "mark":{"type":"line","strokeWidth":2.8,"strokeJoin":"round","point":{"filled":true,"size":95,"opacity":1}},
 "encoding":{"x":{"field":"t","type":"quantitative","scale":{"domain":[-0.45,9.45],"nice":false,"zero":false},"axis":{"values":[0,1,2,3,4,5,6,7,8,9],"labels":false,"title":null}},
  "y":{"field":"v","type":"quantitative","scale":{"domain":[40,100],"nice":false,"zero":false},"axis":{"values":[40,50,60,70,80,90,100],"title":null}},
  "color":{"field":"s","type":"nominal","scale":{"domain":["Multi-turn","Memory","In-place"],"range":["#4bb49c","#fec05a","#ec6b56"]},"legend":{"title":null,"orient":"none","legendX":324,"legendY":-75,"direction":"horizontal","columns":3,"symbolType":"M-2.06,-0.16L2.06,-0.16L2.06,0.16L-2.06,0.16Z M-0.625,0A0.625,0.625 0 1,1 0.625,0A0.625,0.625 0 1,1 -0.625,0Z","symbolSize":256,"symbolStrokeWidth":0,"symbolOffset":10.5,"labelFontSize":17,"labelColor":"#000","labelOffset":21.5,"columnPadding":31,"padding":6,"strokeColor":"#cccccc","fillColor":"#ffffff","cornerRadius":4,"encode":{"symbols":{"update":{"fill":{"scale":"color","field":"value"},"stroke":{"value":"transparent"},"opacity":{"value":1}}}}}}}},
{"width":243,"height":179,"transform":[{"filter":"datum.m==='Llama'&&datum.b==='GPQA'"}],
 "layer":[
  {"mark":{"type":"line","strokeWidth":2.8,"strokeJoin":"round","point":{"filled":true,"size":95,"opacity":1}},
   "encoding":{"x":{"field":"t","type":"quantitative","scale":{"domain":[-0.45,9.45],"nice":false,"zero":false},"axis":{"values":[0,1,2,3,4,5,6,7,8,9],"title":null}},
    "y":{"field":"v","type":"quantitative","scale":{"domain":[0,64.9],"nice":false,"zero":false},"axis":{"values":[0,10,20,30,40,50,60],"title":"Accuracy (%)","titlePadding":10}},
    "color":{"field":"s","type":"nominal","scale":{"domain":["Multi-turn","Memory","In-place"],"range":["#4bb49c","#fec05a","#ec6b56"]},"legend":{"title":null,"orient":"none","legendX":324,"legendY":-75,"direction":"horizontal","columns":3,"symbolType":"M-2.06,-0.16L2.06,-0.16L2.06,0.16L-2.06,0.16Z M-0.625,0A0.625,0.625 0 1,1 0.625,0A0.625,0.625 0 1,1 -0.625,0Z","symbolSize":256,"symbolStrokeWidth":0,"symbolOffset":10.5,"labelFontSize":17,"labelColor":"#000","labelOffset":21.5,"columnPadding":31,"padding":6,"strokeColor":"#cccccc","fillColor":"#ffffff","cornerRadius":4,"encode":{"symbols":{"update":{"fill":{"scale":"color","field":"value"},"stroke":{"value":"transparent"},"opacity":{"value":1}}}}}}}},
  {"mark":{"type":"point","opacity":0},"encoding":{"y":{"field":"v","type":"quantitative","scale":{"domain":[0,64.9],"nice":false,"zero":false},"axis":{"orient":"left","title":"Llama","titleFontWeight":"bold","titlePadding":80,"labels":false,"ticks":false,"domain":false,"grid":false}}}}
 ],"resolve":{"scale":{"y":"independent"}}},
{"width":243,"height":179,"transform":[{"filter":"datum.m==='Llama'&&datum.b==='MMLU-pro'"}],
 "mark":{"type":"line","strokeWidth":2.8,"strokeJoin":"round","point":{"filled":true,"size":95,"opacity":1}},
 "encoding":{"x":{"field":"t","type":"quantitative","scale":{"domain":[-0.45,9.45],"nice":false,"zero":false},"axis":{"values":[0,1,2,3,4,5,6,7,8,9],"title":null}},
  "y":{"field":"v","type":"quantitative","scale":{"domain":[40,90],"nice":false,"zero":false},"axis":{"values":[40,50,60,70,80,90],"title":null}},
  "color":{"field":"s","type":"nominal","scale":{"domain":["Multi-turn","Memory","In-place"],"range":["#4bb49c","#fec05a","#ec6b56"]},"legend":{"title":null,"orient":"none","legendX":324,"legendY":-75,"direction":"horizontal","columns":3,"symbolType":"M-2.06,-0.16L2.06,-0.16L2.06,0.16L-2.06,0.16Z M-0.625,0A0.625,0.625 0 1,1 0.625,0A0.625,0.625 0 1,1 -0.625,0Z","symbolSize":256,"symbolStrokeWidth":0,"symbolOffset":10.5,"labelFontSize":17,"labelColor":"#000","labelOffset":21.5,"columnPadding":31,"padding":6,"strokeColor":"#cccccc","fillColor":"#ffffff","cornerRadius":4,"encode":{"symbols":{"update":{"fill":{"scale":"color","field":"value"},"stroke":{"value":"transparent"},"opacity":{"value":1}}}}}}}},
{"width":243,"height":179,"transform":[{"filter":"datum.m==='Llama'&&datum.b==='MATH-hard'"}],
 "mark":{"type":"line","strokeWidth":2.8,"strokeJoin":"round","point":{"filled":true,"size":95,"opacity":1}},
 "encoding":{"x":{"field":"t","type":"quantitative","scale":{"domain":[-0.45,9.45],"nice":false,"zero":false},"axis":{"values":[0,1,2,3,4,5,6,7,8,9],"title":null}},
  "y":{"field":"v","type":"quantitative","scale":{"domain":[10,90],"nice":false,"zero":false},"axis":{"values":[10,20,30,40,50,60,70,80,90],"title":null}},
  "color":{"field":"s","type":"nominal","scale":{"domain":["Multi-turn","Memory","In-place"],"range":["#4bb49c","#fec05a","#ec6b56"]},"legend":{"title":null,"orient":"none","legendX":324,"legendY":-75,"direction":"horizontal","columns":3,"symbolType":"M-2.06,-0.16L2.06,-0.16L2.06,0.16L-2.06,0.16Z M-0.625,0A0.625,0.625 0 1,1 0.625,0A0.625,0.625 0 1,1 -0.625,0Z","symbolSize":256,"symbolStrokeWidth":0,"symbolOffset":10.5,"labelFontSize":17,"labelColor":"#000","labelOffset":21.5,"columnPadding":31,"padding":6,"strokeColor":"#cccccc","fillColor":"#ffffff","cornerRadius":4,"encode":{"symbols":{"update":{"fill":{"scale":"color","field":"value"},"stroke":{"value":"transparent"},"opacity":{"value":1}}}}}}}},
{"width":243,"height":179,"transform":[{"filter":"datum.m==='Llama'&&datum.b==='LiveCodeBench'"}],
 "mark":{"type":"line","strokeWidth":2.8,"strokeJoin":"round","point":{"filled":true,"size":95,"opacity":1}},
 "encoding":{"x":{"field":"t","type":"quantitative","scale":{"domain":[-0.45,9.45],"nice":false,"zero":false},"axis":{"values":[0,1,2,3,4,5,6,7,8,9],"title":null}},
  "y":{"field":"v","type":"quantitative","scale":{"domain":[40,90],"nice":false,"zero":false},"axis":{"values":[40,50,60,70,80,90],"title":null}},
  "color":{"field":"s","type":"nominal","scale":{"domain":["Multi-turn","Memory","In-place"],"range":["#4bb49c","#fec05a","#ec6b56"]},"legend":{"title":null,"orient":"none","legendX":324,"legendY":-75,"direction":"horizontal","columns":3,"symbolType":"M-2.06,-0.16L2.06,-0.16L2.06,0.16L-2.06,0.16Z M-0.625,0A0.625,0.625 0 1,1 0.625,0A0.625,0.625 0 1,1 -0.625,0Z","symbolSize":256,"symbolStrokeWidth":0,"symbolOffset":10.5,"labelFontSize":17,"labelColor":"#000","labelOffset":21.5,"columnPadding":31,"padding":6,"strokeColor":"#cccccc","fillColor":"#ffffff","cornerRadius":4,"encode":{"symbols":{"update":{"fill":{"scale":"color","field":"value"},"stroke":{"value":"transparent"},"opacity":{"value":1}}}}}}}}
],
"config":{
 "font":"DejaVu Sans",
 "view":{"stroke":"#1a1a1a","strokeWidth":1},
 "axis":{"domain":false,"tickColor":"#1a1a1a","tickSize":5,"tickWidth":1,"labelFontSize":14,"labelColor":"#000","labelPadding":3,"labelFlush":false,"labelOverlap":false,"titleFontSize":18,"titleFontWeight":"normal","titleColor":"#000","gridColor":"#888888","gridDash":[2,2],"gridWidth":0.8,"gridOpacity":0.8},
 "axisX":{"grid":false},
 "axisY":{"grid":true},
 "title":{"fontSize":18,"fontWeight":"normal","color":"#000","offset":5,"frame":"group"}
}
}
